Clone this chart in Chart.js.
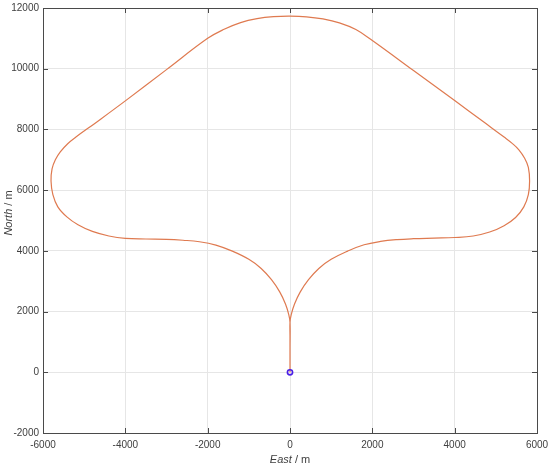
<!DOCTYPE html>
<html>
<head>
<meta charset="utf-8">
<script src="https://cdn.jsdelivr.net/npm/chart.js@4/dist/chart.umd.min.js"></script>
<style>
html,body{margin:0;padding:0;background:#fff;}
#wrap{width:550px;height:470px;}
</style>
</head>
<body>
<div id="wrap"><canvas id="c" width="550" height="470"></canvas></div>
<script>
// Track path (East / North in metres)
const eastPath = [0, 0, 0, 0,
  30, 110, 250, 450, 700, 1000, 1400, 1800, 2200, 2600, 3000, 3500,
  4000, 4450, 4850, 5200, 5480, 5680, 5790, 5820, 5790, 5700, 5560, 5390, 5200,
  4700, 4000, 3000, 2000,
  1600, 1200, 800, 400, 0, -400, -800, -1200, -1600, -2000,
  -3000, -4000, -4700, -5200,
  -5400, -5580, -5700, -5780, -5805, -5760, -5640, -5420, -5150, -4800, -4400, -4000,
  -3500, -3000, -2600, -2200, -1800, -1400, -1000, -700, -450, -250, -110, -30,
  0, 0, 0];
const northPath = [0, 600, 1200, 1650,
  1900, 2250, 2650, 3050, 3420, 3720, 3990, 4200, 4310, 4370, 4400, 4420,
  4440, 4490, 4620, 4830, 5100, 5450, 5850, 6300, 6750, 7050, 7330, 7550, 7750,
  8250, 8950, 9940, 10930,
  11290, 11510, 11640, 11710, 11730, 11715, 11650, 11520, 11300, 11000,
  9970, 8940, 8240, 7750,
  7530, 7260, 7000, 6700, 6300, 5850, 5450, 5120, 4860, 4640, 4490, 4410,
  4390, 4380, 4350, 4300, 4190, 3990, 3720, 3420, 3050, 2650, 2250, 1900,
  1650, 800, 0];
// Start marker
const startEast = [0];
const startNorth = [0];
// Axis ticks
const xTicks = [-6000, -4000, -2000, 0, 2000, 4000, 6000];
const yTicks = [-2000, 0, 2000, 4000, 6000, 8000, 10000, 12000];
const xTitle = ["East", " / m"];
const yTitle = ["North", " / m"];

const FONT = "'Liberation Sans Narrow', 'Liberation Sans', Arial, sans-serif";
const TXT = '#404040';
const AXIS = '#4a4a4a';

const pathData = eastPath.map((e, i) => ({x: e, y: northPath[i]}));
const startData = startEast.map((e, i) => ({x: e, y: startNorth[i]}));

const decor = {
  id: 'decor',
  afterDraw(chart) {
    const ctx = chart.ctx;
    const a = chart.chartArea;
    const xs = chart.scales.x, ys = chart.scales.y;
    ctx.save();
    ctx.strokeStyle = AXIS;
    ctx.lineWidth = 1;
    ctx.strokeRect(Math.round(a.left) + 0.5, Math.round(a.top) + 0.5, Math.round(a.right - a.left), Math.round(a.bottom - a.top));
    const L = 5;
    ctx.beginPath();
    xTicks.slice(1, -1).forEach(v => {
      const p = Math.round(xs.getPixelForValue(v)) + 0.5;
      ctx.moveTo(p, a.bottom); ctx.lineTo(p, a.bottom - L);
      ctx.moveTo(p, a.top); ctx.lineTo(p, a.top + L);
    });
    yTicks.slice(1, -1).forEach(v => {
      const p = Math.round(ys.getPixelForValue(v)) + 0.5;
      ctx.moveTo(a.left, p); ctx.lineTo(a.left + L, p);
      ctx.moveTo(a.right, p); ctx.lineTo(a.right - L, p);
    });
    ctx.stroke();
    ctx.fillStyle = TXT;
    ctx.textBaseline = 'middle';
    const it = "italic 11px " + FONT, nm = "11px " + FONT;
    ctx.font = it; const w1 = ctx.measureText(xTitle[0]).width;
    ctx.font = nm; const w2 = ctx.measureText(xTitle[1]).width;
    let cx = (a.left + a.right) / 2 - (w1 + w2) / 2;
    ctx.textAlign = 'left';
    ctx.font = it; ctx.fillText(xTitle[0], cx, 460);
    ctx.font = nm; ctx.fillText(xTitle[1], cx + w1, 460);
    ctx.font = it; const h1 = ctx.measureText(yTitle[0]).width;
    ctx.font = nm; const h2 = ctx.measureText(yTitle[1]).width;
    ctx.translate(9, 213);
    ctx.rotate(-Math.PI / 2);
    let cy = -(h1 + h2) / 2;
    ctx.font = it; ctx.fillText(yTitle[0], cy, 0);
    ctx.font = nm; ctx.fillText(yTitle[1], cy + h1, 0);
    ctx.restore();
  }
};

new Chart(document.getElementById('c'), {
  type: 'scatter',
  data: {
    datasets: [
      {
        data: pathData,
        showLine: true,
        borderColor: '#df7a50',
        borderWidth: 1.2,
        pointRadius: 0,
        tension: 0.4,
        fill: false,
        order: 2
      },
      {
        data: startData,
        showLine: false,
        pointRadius: 2.6,
        pointStyle: 'circle',
        borderColor: '#4a1fe6',
        backgroundColor: 'rgba(0,0,0,0)',
        pointBorderWidth: 1.6,
        order: 1
      }
    ]
  },
  options: {
    responsive: false,
    animation: false,
    events: [],
    layout: {padding: {top: 8, right: 13, left: 0, bottom: 0}},
    plugins: {legend: {display: false}, tooltip: {enabled: false}},
    scales: {
      x: {
        type: 'linear', min: -6000, max: 6000,
        afterBuildTicks(s) { s.ticks = xTicks.map(v => ({value: v})); },
        afterFit(s) { s.height = 37; s.paddingLeft = 0; s.paddingRight = 0; },
        grid: {color: '#e6e6e6', drawTicks: false},
        border: {display: false},
        ticks: {color: TXT, font: {family: FONT, size: 10}, padding: 6, maxRotation: 0, callback: v => String(v)}
      },
      y: {
        type: 'linear', min: -2000, max: 12000,
        afterBuildTicks(s) { s.ticks = yTicks.map(v => ({value: v})); },
        afterFit(s) { s.width = 43; s.paddingTop = 0; s.paddingBottom = 0; },
        grid: {color: '#e6e6e6', drawTicks: false},
        border: {display: false},
        ticks: {color: TXT, font: {family: FONT, size: 10}, padding: 4, callback: v => String(v)}
      }
    }
  },
  plugins: [decor]
});
</script>
</body>
</html>
